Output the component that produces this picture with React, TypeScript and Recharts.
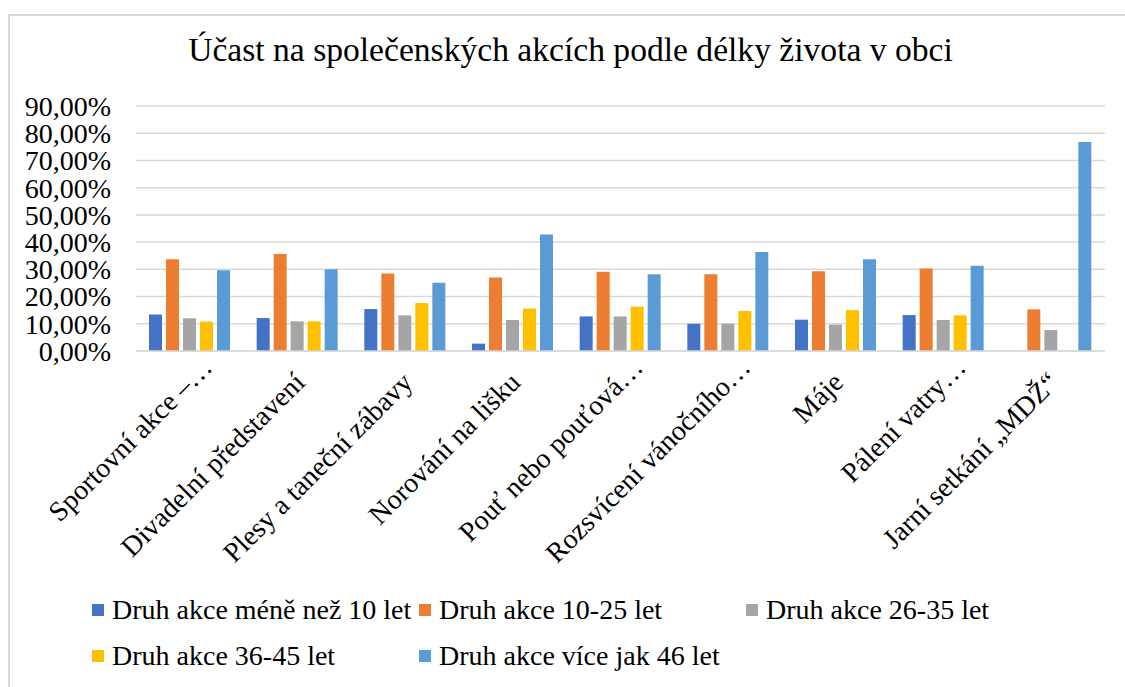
import { BarChart, Bar, XAxis, YAxis, CartesianGrid, Legend } from "recharts"

const categories = [
  "Sportovní akce –…",
  "Divadelní představení",
  "Plesy a taneční zábavy",
  "Norování na lišku",
  "Pouť nebo pouťová…",
  "Rozsvícení vánočního…",
  "Máje",
  "Pálení vatry…",
  "Jarní setkání „MDŽ“",
]

// hodnoty v procentech
const lessThan10 = [13.4, 12.1, 15.4, 2.7, 12.7, 10.0, 11.5, 13.2, 0]
const years10to25 = [33.7, 35.6, 28.5, 27.0, 29.1, 28.2, 29.3, 30.3, 15.3]
const years26to35 = [12.0, 10.9, 13.1, 11.4, 12.7, 10.0, 9.7, 11.4, 7.7]
const years36to45 = [10.8, 10.9, 17.6, 15.6, 16.3, 14.7, 15.0, 13.1, 0]
const moreThan46 = [29.7, 30.0, 25.1, 42.8, 28.2, 36.4, 33.7, 31.3, 76.8]

const seriesNames = [
  "Druh akce méně než 10 let",
  "Druh akce 10-25 let",
  "Druh akce 26-35 let",
  "Druh akce 36-45 let",
  "Druh akce více jak 46 let",
]
const seriesColors = ["#4472C4", "#ED7D31", "#A5A5A5", "#FFC000", "#5B9BD5"]
const seriesValues = [lessThan10, years10to25, years26to35, years36to45, moreThan46]

const yTicks = [0, 10, 20, 30, 40, 50, 60, 70, 80, 90]

const data = categories.map((name, i) => {
  const row: Record<string, string | number> = { name }
  seriesValues.forEach((vals, s) => {
    row["s" + s] = vals[i]
  })
  return row
})

const font = "Liberation Serif, Times New Roman, DejaVu Serif, serif"

const formatPct = (v: number) => v.toFixed(2).replace(".", ",") + "%"

function CategoryTick(props: any) {
  const { x, y, payload } = props
  // zkrácené popisky (s „…“) Excel posouvá kousek dál po směru textu
  const shift = String(payload.value).endsWith("…") ? 15 : 0
  const px = x + 9 + shift
  const py = y + 33 - shift
  return (
    <text
      x={px}
      y={py}
      transform={`rotate(-45, ${px}, ${py})`}
      textAnchor="end"
      style={{ fontFamily: font }}
      fontSize={28}
      fill="#000"
    >
      {payload.value}
    </text>
  )
}

function LegendBox() {
  return (
    <div
      style={{
        display: "flex",
        flexWrap: "wrap",
        width: 1125,
        height: 94,
        boxSizing: "border-box",
        paddingLeft: 92,
        paddingTop: 2,
        fontFamily: font,
        fontSize: 28,
        color: "#000",
      }}
    >
      {seriesNames.map((n, i) => (
        <div key={n} style={{ width: 327, height: 46, display: "flex", alignItems: "center", whiteSpace: "nowrap" }}>
          <span style={{ width: 12, height: 12, background: seriesColors[i], marginRight: 8, flex: "none" }} />
          {n}
        </div>
      ))}
    </div>
  )
}

export default function App() {
  return (
    <div style={{ position: "absolute", left: 0, top: 0, width: 1125, height: 687, overflow: "hidden", background: "#fff", fontFamily: font }}>
      <div
        style={{
          position: "absolute",
          left: 8,
          top: 14,
          width: 1200,
          height: 800,
          border: "2px solid #d9d9d9",
        }}
      />
      <div
        style={{
          position: "absolute",
          left: 8,
          top: 33,
          width: 1125,
          textAlign: "center",
          fontFamily: font,
          fontSize: 33.6,
          lineHeight: "34px",
          color: "#000",
        }}
      >
        Účast na společenských akcích podle délky života v obci
      </div>
      <div style={{ position: "absolute", left: 0, top: 0 }}>
        <BarChart
          width={1125}
          height={687}
          data={data}
          margin={{ top: 106, right: 20, left: 16, bottom: 8 }}
          barCategoryGap={13}
          barGap={4}
          style={{ fontFamily: font }}
        >
          <CartesianGrid vertical={false} stroke="#d9d9d9" strokeWidth={1.5} />
          <XAxis
            dataKey="name"
            interval={0}
            height={234}
            tickLine={false}
            tickSize={0}
            tickMargin={0}
            axisLine={{ stroke: "#d9d9d9", strokeWidth: 1.5 }}
            tick={<CategoryTick />}
          />
          <YAxis
            width={120}
            domain={[0, 90]}
            ticks={yTicks}
            interval={0}
            axisLine={false}
            tickLine={false}
            tickSize={0}
            tickMargin={25}
            tickFormatter={formatPct}
            tick={{ style: { fontFamily: font }, fontSize: 28, fill: "#000" }}
          />
          <Legend
            verticalAlign="bottom"
            wrapperStyle={{ top: 585, left: 0, width: 1125, height: 94 }}
            content={() => <LegendBox />}
          />
          {seriesNames.map((n, i) => (
            <Bar key={n} dataKey={"s" + i} name={n} fill={seriesColors[i]} isAnimationActive={false} />
          ))}
        </BarChart>
      </div>
    </div>
  )
}
